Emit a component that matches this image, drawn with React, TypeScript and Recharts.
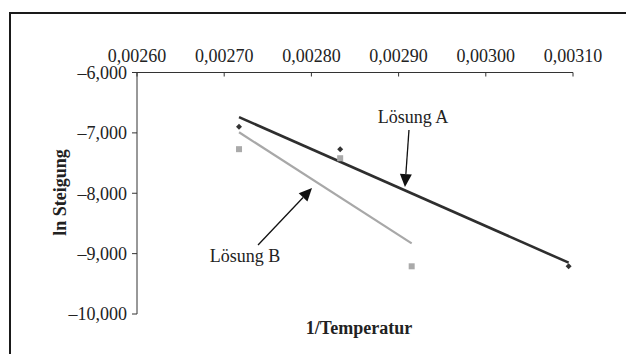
import React from 'react';
import {
  ScatterChart,
  Scatter,
  XAxis,
  YAxis,
  ReferenceLine,
  ReferenceDot,
} from 'recharts';

// Measured points (1/T, ln slope)
const loesungA = [
  { x: 0.002717, y: -6.9 },
  { x: 0.002833, y: -7.27 },
  { x: 0.003095, y: -9.21 },
];
const loesungB = [
  { x: 0.002717, y: -7.27 },
  { x: 0.002833, y: -7.42 },
  { x: 0.002915, y: -9.21 },
];
// Trend lines (start / end)
const trendA = [
  { x: 0.002717, y: -6.74 },
  { x: 0.003095, y: -9.15 },
];
const trendB = [
  { x: 0.002717, y: -6.99 },
  { x: 0.002915, y: -8.83 },
];
const xTicks = [0.0026, 0.0027, 0.0028, 0.0029, 0.003, 0.0031];
const yTicks = [-6, -7, -8, -9, -10];

// Annotations (data coordinates)
const labelA = { x: 0.0029165, y: -6.737, text: 'Lösung A' };
const labelB = { x: 0.0027239, y: -9.039, text: 'Lösung B' };
const arrowA = [
  { x: 0.0029119, y: -6.952 },
  { x: 0.0029073, y: -7.897 },
];
const arrowB = [
  { x: 0.0027388, y: -8.857 },
  { x: 0.0028007, y: -7.913 },
];

const FONT = '"Liberation Serif", "DejaVu Serif", serif';
const TXT = '#222';

const fmtX = (v: number) => v.toFixed(5).replace('.', ',');
const fmtY = (v: number) => {
  const s = Math.abs(v).toFixed(3).replace('.', ',');
  return (v < 0 ? '\u2013' : '') + s;
};

const Diamond = (p: any) => {
  const { cx, cy } = p;
  if (cx == null || cy == null) return <g />;
  const r = 3;
  return (
    <polygon
      points={`${cx},${cy - r} ${cx + r},${cy} ${cx},${cy + r} ${cx - r},${cy}`}
      fill="#333"
    />
  );
};

const Square = (p: any) => {
  const { cx, cy } = p;
  if (cx == null || cy == null) return <g />;
  return <rect x={cx - 3} y={cy - 3} width={6} height={6} fill="#aaa" />;
};

const Nothing = () => <g />;

const Arrow = (p: any) => {
  const { x1, y1, x2, y2 } = p;
  if ([x1, y1, x2, y2].some((v) => v == null || isNaN(v))) return <g />;
  const dx = x2 - x1;
  const dy = y2 - y1;
  const len = Math.sqrt(dx * dx + dy * dy);
  const ux = dx / len;
  const uy = dy / len;
  const hl = 13;
  const hw = 6;
  const bx = x2 - ux * hl;
  const by = y2 - uy * hl;
  const px = -uy;
  const py = ux;
  return (
    <g>
      <line x1={x1} y1={y1} x2={bx} y2={by} stroke="#111" strokeWidth={1.3} />
      <polygon
        points={`${x2},${y2} ${bx + px * hw},${by + py * hw} ${bx - px * hw},${by - py * hw}`}
        fill="#111"
      />
    </g>
  );
};

const makeLabel = (text: string) => (p: any) => {
  const { cx, cy } = p;
  if (cx == null || cy == null) return <g />;
  return (
    <text
      x={cx}
      y={cy}
      textAnchor="middle"
      dominantBaseline="central"
      fontFamily={FONT}
      fontSize={18}
      fill={TXT}
    >
      {text}
    </text>
  );
};

export default function App() {
  return (
    <div
      style={{
        position: 'fixed',
        left: 0,
        top: 0,
        width: 627,
        height: 354,
        overflow: 'hidden',
        background: '#fff',
      }}
    >
      <div
        style={{
          position: 'absolute',
          left: 9,
          top: 12,
          width: 617,
          height: 400,
          borderTop: '2px solid #1a1a1a',
          borderLeft: '2px solid #1a1a1a',
          boxSizing: 'border-box',
        }}
      />
      <div style={{ position: 'absolute', left: 8, top: 8 }}>
        <ScatterChart
          width={619}
          height={346}
          margin={{ top: 24.5, right: 54, bottom: 40, left: 49 }}
        >
          <XAxis
            type="number"
            dataKey="x"
            orientation="top"
            domain={[0.0026, 0.0031]}
            ticks={xTicks}
            tickFormatter={fmtX}
            height={40}
            tickSize={-4}
            tickMargin={15}
            axisLine={{ stroke: '#333', strokeWidth: 1 }}
            tickLine={{ stroke: '#333', strokeWidth: 1 }}
            tick={{ fontFamily: FONT, fontSize: 18, fill: TXT }}
            allowDataOverflow
          />
          <YAxis
            type="number"
            dataKey="y"
            domain={[-10, -6]}
            ticks={yTicks}
            tickFormatter={fmtY}
            width={80}
            tickSize={5}
            tickMargin={5}
            axisLine={{ stroke: '#333', strokeWidth: 1 }}
            tickLine={{ stroke: '#333', strokeWidth: 1 }}
            tick={{ fontFamily: FONT, fontSize: 18, fill: TXT }}
            allowDataOverflow
            label={{
              content: () => (
                <text
                  x={52}
                  y={184.5}
                  transform="rotate(-90 52 184.5)"
                  textAnchor="middle"
                  dominantBaseline="central"
                  fontFamily={FONT}
                  fontSize={18}
                  fontWeight="bold"
                  fill={TXT}
                >
                  ln Steigung
                </text>
              ),
            }}
          />
          <Scatter
            data={trendB}
            line={{ stroke: '#a8a8a8', strokeWidth: 2.2 }}
            shape={Nothing}
            isAnimationActive={false}
          />
          <Scatter
            data={trendA}
            line={{ stroke: '#2e2e2e', strokeWidth: 2.6 }}
            shape={Nothing}
            isAnimationActive={false}
          />
          <Scatter data={loesungB} shape={Square} isAnimationActive={false} />
          <Scatter data={loesungA} shape={Diamond} isAnimationActive={false} />
          <ReferenceLine
            segment={[arrowA[0], arrowA[1]]}
            shape={Arrow}
            ifOverflow="visible"
          />
          <ReferenceLine
            segment={[arrowB[0], arrowB[1]]}
            shape={Arrow}
            ifOverflow="visible"
          />
          <ReferenceDot
            x={labelA.x}
            y={labelA.y}
            r={0}
            shape={makeLabel(labelA.text)}
            ifOverflow="visible"
          />
          <ReferenceDot
            x={labelB.x}
            y={labelB.y}
            r={0}
            shape={makeLabel(labelB.text)}
            ifOverflow="visible"
          />
        </ScatterChart>
      </div>
      <div
        style={{
          position: 'absolute',
          left: 259,
          width: 200,
          top: 316,
          textAlign: 'center',
          fontFamily: FONT,
          fontSize: 18,
          fontWeight: 'bold',
          color: TXT,
          lineHeight: '24px',
        }}
      >
        1/Temperatur
      </div>
    </div>
  );
}
